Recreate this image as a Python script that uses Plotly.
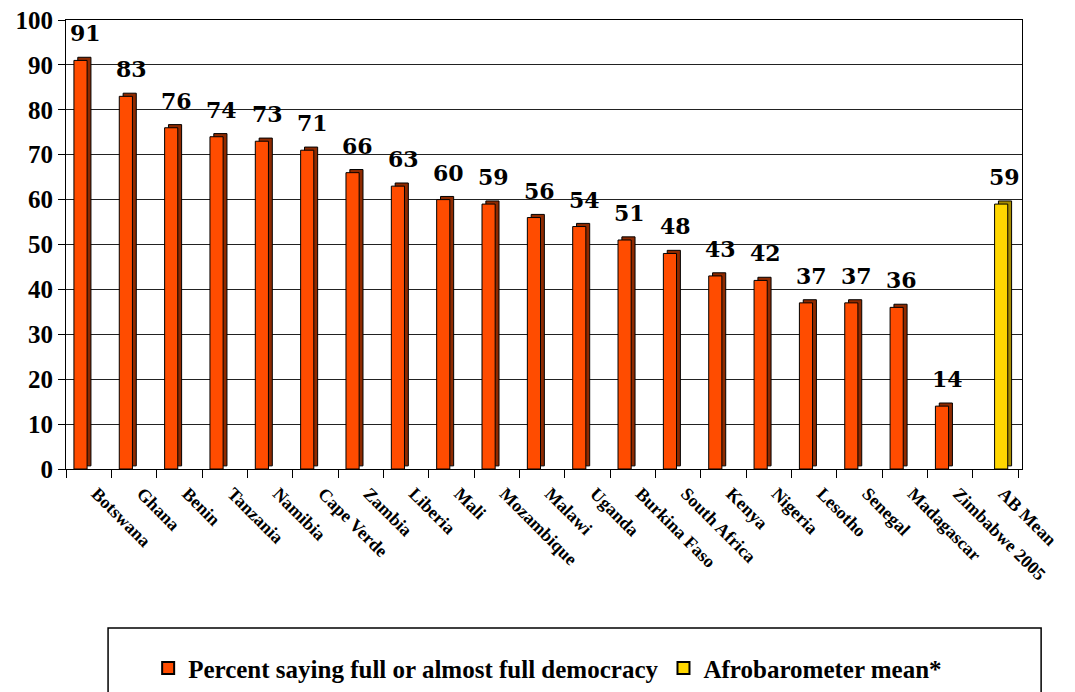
import plotly.graph_objects as go

categories = ["Botswana", "Ghana", "Benin", "Tanzania", "Namibia", "Cape Verde", "Zambia",
              "Liberia", "Mali", "Mozambique", "Malawi", "Uganda", "Burkina Faso",
              "South Africa", "Kenya", "Nigeria", "Lesotho", "Senegal", "Madagascar",
              "Zimbabwe 2005", "AB Mean"]
democracy_pct = [91, 83, 76, 74, 73, 71, 66, 63, 60, 59, 56, 54, 51, 48, 43, 42, 37, 37, 36, 14, None]
ab_mean = [None] * 20 + [59]
y_ticks = list(range(0, 101, 10))

ORANGE = "#FF4C00"
ORANGE_SIDE = "#8E2A00"
YELLOW = "#FFD700"
YELLOW_SIDE = "#A88C00"
FONT_LABEL = "DejaVu Serif"
FONT_Y = "serif"
FONT_X = "Times New Roman"
FONT_LEG = "Liberation Serif"

BAR_W = 0.29
OFF_OR = -0.325
OFF_YE = -0.02
DX = 0.085   # 3D depth, x (category units)
DY = 0.7     # 3D depth, y (value units)

fig = go.Figure()

def add_series(vals, name, color, side, off):
    # side/top face (pseudo 3D)
    fig.add_trace(go.Bar(x=categories, y=vals, base=DY, width=BAR_W, offset=off + DX,
                         marker=dict(color=side, line=dict(color="black", width=1)),
                         showlegend=False, hoverinfo="skip"))
    # front face
    fig.add_trace(go.Bar(x=categories, y=vals, width=BAR_W, offset=off, name=name,
                         marker=dict(color=color, line=dict(color="black", width=1))))

add_series(democracy_pct, "Percent saying full or almost full democracy", ORANGE, ORANGE_SIDE, OFF_OR)
add_series(ab_mean, "Afrobarometer mean*", YELLOW, YELLOW_SIDE, OFF_YE)

annotations = []
for c, v in zip(categories, democracy_pct):
    if v is not None:
        annotations.append(dict(x=c, y=v, text=str(v), showarrow=False, xref="x", yref="y",
                                yanchor="bottom", xshift=-3, yshift=12,
                                font=dict(family=FONT_LABEL, size=22, color="black", weight="bold")))
for c, v in zip(categories, ab_mean):
    if v is not None:
        annotations.append(dict(x=c, y=v, text=str(v), showarrow=False, xref="x", yref="y",
                                yanchor="bottom", xshift=9, yshift=12,
                                font=dict(family=FONT_LABEL, size=22, color="black", weight="bold")))

fig.update_layout(
    width=1075, height=692,
    margin=dict(l=58, r=61, t=12, b=231, autoexpand=False),
    paper_bgcolor="white", plot_bgcolor="white",
    barmode="overlay",
    showlegend=True,
    legend=dict(orientation="h", xref="container", yref="container",
                x=0.502, xanchor="center", y=0.046, yanchor="middle",
                font=dict(family=FONT_LEG, size=25, color="black", weight="bold"),
                bgcolor="rgba(0,0,0,0)", itemsizing="constant", traceorder="normal"),
    annotations=annotations,
    shapes=[dict(type="rect", xref="paper", yref="paper", x0=0.044, x1=1.02, y0=-0.52, y1=-0.354,
                 line=dict(color="black", width=1.5), fillcolor="rgba(0,0,0,0)", layer="below")],
)

fig.update_xaxes(
    type="category", tickangle=45, tickson="boundaries", ticks="outside", ticklen=8,
    tickcolor="black", showline=True, linecolor="black", linewidth=1, mirror=True,
    tickfont=dict(family=FONT_X, size=18, color="black", weight="bold"), showgrid=False,
    automargin=False, ticklabelshift=8, ticklabelstandoff=6,
)
fig.update_yaxes(
    range=[0, 100], tickvals=y_ticks,
    ticks="outside", ticklen=7, tickcolor="black",
    showline=True, linecolor="black", linewidth=1, mirror=True,
    showgrid=True, gridcolor="#222", gridwidth=1, zeroline=False,
    tickfont=dict(family=FONT_Y, size=25, color="black", weight="bold"), automargin=False,
    ticklabeloverflow="allow",
)

fig.write_html("out.html")
